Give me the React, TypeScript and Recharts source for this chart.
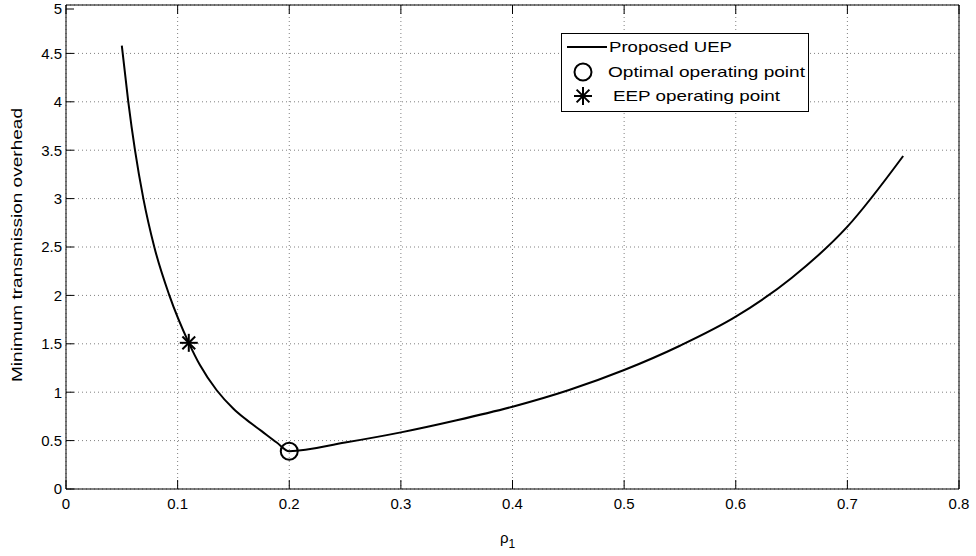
import React from 'react';
import { ComposedChart, Line, Scatter, XAxis, YAxis, CartesianGrid, Legend } from 'recharts';

// values
const rhoValues = [0.05, 0.0558, 0.0618, 0.0693, 0.0791, 0.0926, 0.11, 0.12, 0.135, 0.15, 0.16, 0.175, 0.1888, 0.2, 0.25, 0.3, 0.35, 0.4, 0.45, 0.5, 0.55, 0.6, 0.65, 0.7, 0.75];
const overheadValues = [4.58, 4.0, 3.5, 3.0, 2.5, 2.0, 1.51, 1.28, 1.02, 0.83, 0.73, 0.6, 0.48, 0.39, 0.48, 0.585, 0.71, 0.85, 1.02, 1.229, 1.48, 1.78, 2.18, 2.71, 3.44];
const optimalPoint = [{ x: 0.2, y: 0.39 }];
const eepPoint = [{ x: 0.11, y: 1.51 }];
const xTicks = [0, 0.1, 0.2, 0.3, 0.4, 0.5, 0.6, 0.7, 0.8];
const yTicks = [0, 0.5, 1, 1.5, 2, 2.5, 3, 3.5, 4, 4.5, 5];
const seriesNames = ['Proposed UEP', 'Optimal operating point', 'EEP operating point'];

const curveData = rhoValues.map((x, i) => ({ x, y: overheadValues[i] }));

const FONT = '"Liberation Sans", Arial, Helvetica, sans-serif';

const BottomTick = (props: any) => {
  const { x, y, payload } = props;
  return (
    <g>
      <line x1={x} x2={x} y1={y} y2={y - 9} stroke="#000" />
      <text x={x} y={y + 20} textAnchor="middle" fontSize={15} fontFamily={FONT} fill="#000">
        {payload.value}
      </text>
    </g>
  );
};

const TopTick = (props: any) => {
  const { x, y } = props;
  return <line x1={x} x2={x} y1={y} y2={y + 9} stroke="#000" />;
};

const LeftTick = (props: any) => {
  const { x, y, payload } = props;
  return (
    <g>
      <line x1={x} x2={x + 8} y1={y} y2={y} stroke="#000" />
      <text x={x - 4} y={y} dy="0.36em" textAnchor="end" fontSize={15} fontFamily={FONT} fill="#000">
        {payload.value}
      </text>
    </g>
  );
};

const RightTick = (props: any) => {
  const { x, y } = props;
  return <line x1={x} x2={x - 8} y1={y} y2={y} stroke="#000" />;
};

const CircleMark = (props: any) => {
  const { cx, cy } = props;
  return <circle cx={cx} cy={cy} r={8.5} fill="none" stroke="#000" strokeWidth={2} />;
};

const StarMark = (props: any) => {
  const { cx, cy } = props;
  const r = 9;
  const d = 6.4;
  return (
    <g stroke="#000" strokeWidth={2}>
      <line x1={cx - r} x2={cx + r} y1={cy} y2={cy} />
      <line x1={cx} x2={cx} y1={cy - r} y2={cy + r} />
      <line x1={cx - d} x2={cx + d} y1={cy - d} y2={cy + d} />
      <line x1={cx - d} x2={cx + d} y1={cy + d} y2={cy - d} />
    </g>
  );
};

const XLabel = (props: any) => {
  const { viewBox } = props;
  const cx = viewBox.x + viewBox.width / 2 - 5;
  return (
    <text x={cx} y={viewBox.y + 54} textAnchor="middle" fontSize={15} fontFamily={FONT} fill="#000">
      ρ<tspan fontSize={12} dy={5}>1</tspan>
    </text>
  );
};

const YLabel = (props: any) => {
  const { viewBox } = props;
  const cx = 22;
  const cy = viewBox.y + viewBox.height / 2 - 2;
  return (
    <text
      x={cx}
      y={cy}
      transform={`rotate(-90, ${cx}, ${cy})`}
      textAnchor="middle"
      fontSize={15}
      fontFamily={FONT}
      fill="#000"
      textLength={274}
      lengthAdjust="spacingAndGlyphs"
    >
      Minimum transmission overhead
    </text>
  );
};

const LegendBox = () => (
  <div style={{ width: 248, height: 79, border: '1px solid #000', background: '#fff', boxSizing: 'border-box' }}>
    <svg width={246} height={77} style={{ display: 'block' }}>
      <line x1={5} x2={45} y1={13} y2={13} stroke="#000" strokeWidth={2} />
      <text x={47} y={18} fontSize={15} fontFamily={FONT} textLength={123} lengthAdjust="spacingAndGlyphs">
        {seriesNames[0]}
      </text>
      <CircleMark cx={21} cy={38} />
      <text x={46} y={43} fontSize={15} fontFamily={FONT} textLength={197} lengthAdjust="spacingAndGlyphs">
        {seriesNames[1]}
      </text>
      <StarMark cx={21} cy={62} />
      <text x={51} y={67} fontSize={15} fontFamily={FONT} textLength={167} lengthAdjust="spacingAndGlyphs">
        {seriesNames[2]}
      </text>
    </svg>
  </div>
);

export default function App() {
  return (
    <div style={{ position: 'absolute', left: 0, top: 0, background: '#fff' }}>
      <ComposedChart
        width={976}
        height={556}
        data={curveData}
        margin={{ top: 4, right: 16, bottom: 37, left: 16 }}
      >
        <CartesianGrid xAxisId="b" yAxisId="l" stroke="#808080" strokeDasharray="1 3" />
        <XAxis
          xAxisId="b"
          dataKey="x"
          type="number"
          domain={[0, 0.8]}
          ticks={xTicks}
          height={30}
          tickSize={0}
          tickMargin={0}
          tickLine={false}
          tick={<BottomTick />}
          axisLine={{ stroke: '#000' }}
          label={<XLabel />}
        />
        <XAxis
          xAxisId="t"
          orientation="top"
          dataKey="x"
          type="number"
          domain={[0, 0.8]}
          ticks={xTicks}
          height={1}
          tickSize={0}
          tickMargin={0}
          tickLine={false}
          tick={<TopTick />}
          axisLine={{ stroke: '#000' }}
        />
        <YAxis
          yAxisId="l"
          type="number"
          domain={[0, 5]}
          ticks={yTicks}
          width={50}
          tickSize={0}
          tickMargin={0}
          tickLine={false}
          tick={<LeftTick />}
          axisLine={{ stroke: '#000' }}
          label={<YLabel />}
        />
        <YAxis
          yAxisId="r"
          orientation="right"
          type="number"
          domain={[0, 5]}
          ticks={yTicks}
          width={1}
          tickSize={0}
          tickMargin={0}
          tickLine={false}
          tick={<RightTick />}
          axisLine={{ stroke: '#000' }}
        />
        <Legend
          layout="horizontal"
          verticalAlign="middle"
          align="center"
          wrapperStyle={{ left: 561, top: 33, width: 248, height: 79 }}
          content={() => <LegendBox />}
        />
        <Line
          xAxisId="b"
          yAxisId="l"
          type="monotone"
          dataKey="y"
          name={seriesNames[0]}
          stroke="#000"
          strokeWidth={2}
          dot={false}
          activeDot={false}
          isAnimationActive={false}
        />
        <Scatter
          xAxisId="b"
          yAxisId="l"
          data={optimalPoint}
          dataKey="y"
          name={seriesNames[1]}
          shape={<CircleMark />}
          isAnimationActive={false}
        />
        <Scatter
          xAxisId="b"
          yAxisId="l"
          data={eepPoint}
          dataKey="y"
          name={seriesNames[2]}
          shape={<StarMark />}
          isAnimationActive={false}
        />
      </ComposedChart>
    </div>
  );
}
